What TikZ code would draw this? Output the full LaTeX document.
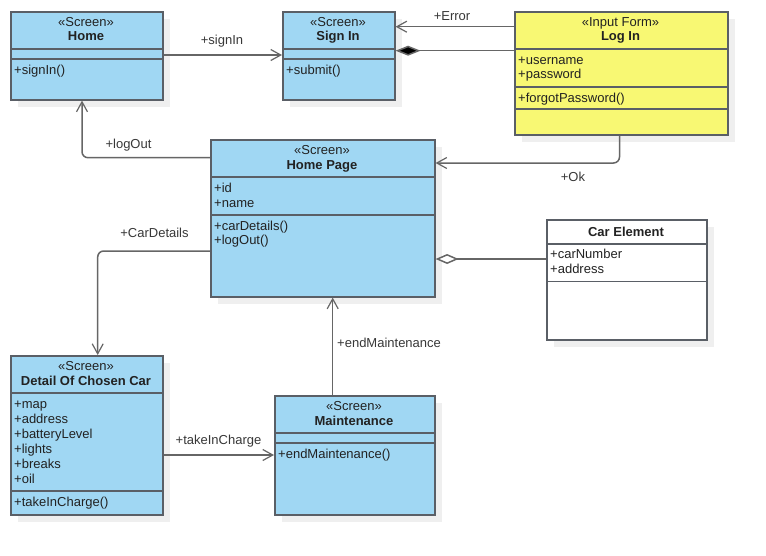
\documentclass[tikz,border=0pt]{standalone}
\usepackage{fontspec}
\setmainfont{Liberation Sans}
\usetikzlibrary{arrows.meta,shadows}

\definecolor{screenblue}{HTML}{A0D7F3}
\definecolor{formyellow}{HTML}{F8F873}
\definecolor{boxline}{HTML}{5A5F66}
\definecolor{wire}{HTML}{666666}
\definecolor{shade}{HTML}{EFEFEF}
\definecolor{ink}{HTML}{222222}

% horizontal compartment rule inside a class box, #2 below its top edge
\newcommand\classrule[2]{\draw[seprule] ([yshift=-#2]#1.north west) -- ([yshift=-#2]#1.north east);}

\tikzset{
  cls/.style={draw=boxline, line width=1.6pt, anchor=north west, inner sep=0pt,
    drop shadow={shadow xshift=7pt, shadow yshift=-7pt, fill=shade, opacity=1}},
  screen/.style={cls, fill=screenblue},
  form/.style={cls, fill=formyellow},
  plain/.style={cls, fill=white},
  seprule/.style={draw=boxline, line width=1.6pt},
  txt/.style={inner sep=0pt, text height=9.4pt, text depth=0pt, text=ink,
    font=\fontsize{13}{15}\selectfont},
  head/.style={txt, font=\fontsize{13}{15}\selectfont\bfseries},
  member/.style={txt, anchor=west},
  lbl/.style={txt, text=ink!90},
  wirebase/.style={draw=wire, line width=1.5pt},
  assoc/.style={wirebase, -{Straight Barb[length=10pt,width=11pt,line width=1.2pt]}},
  comp/.style={wirebase, -{Diamond[length=25pt 0,width=10pt 0,fill=black]}},
  aggr/.style={wirebase, -{Diamond[open,length=23pt 0,width=10pt 0,fill=white]}},
}

\begin{document}
\begin{tikzpicture}[x=1pt,y=-1pt]
\fill[white] (0,0) rectangle (766,555);
\useasboundingbox (0,0) rectangle (766,555);

% ---- Home
\node[screen, minimum width=152pt, minimum height=88pt] (home) at (10,11) {};
\classrule{home}{38pt}\classrule{home}{48pt}
\node[txt] (homeS) at (86,22) {«Screen»};
\node[head] (homeN) at (86,36) {Home};
\node[member] (homeM1) at (14,70) {+signIn()};

% ---- Sign In
\node[screen, minimum width=112pt, minimum height=88pt] (signin) at (282,11) {};
\classrule{signin}{38pt}\classrule{signin}{48pt}
\node[txt] (signinS) at (338,22) {«Screen»};
\node[head] (signinN) at (338,36) {Sign In};
\node[member] (signinM1) at (286,70) {+submit()};

% ---- Log In
\node[form, minimum width=213pt, minimum height=123pt] (login) at (514,11) {};
\classrule{login}{38pt}\classrule{login}{76pt}\classrule{login}{98pt}
\node[txt] (loginS) at (620.5,21.7) {«Input Form»};
\node[head] (loginN) at (620.5,36) {Log In};
\node[member] (loginA1) at (518,59.5) {+username};
\node[member] (loginA2) at (518,74) {+password};
\node[member] (loginM1) at (518,97.5) {+forgotPassword()};

% ---- Home Page
\node[screen, minimum width=224pt, minimum height=157pt] (homepage) at (210,139) {};
\classrule{homepage}{38pt}\classrule{homepage}{76pt}
\node[txt] (hpS) at (322,150) {«Screen»};
\node[head] (hpN) at (322,164.5) {Home Page};
\node[member] (hpA1) at (214,188) {+id};
\node[member] (hpA2) at (214,202.5) {+name};
\node[member] (hpM1) at (214,225.5) {+carDetails()};
\node[member] (hpM2) at (214,240) {+logOut()};

% ---- Car Element
\node[plain, minimum width=160pt, minimum height=120pt] (carel) at (546,219) {};
\classrule{carel}{24.7pt}\classrule{carel}{62.3pt}
\node[head] (carelN) at (626,231.5) {Car Element};
\node[member] (carelA1) at (550,254) {+carNumber};
\node[member] (carelA2) at (550,269) {+address};

% ---- Detail Of Chosen Car
\node[screen, minimum width=152pt, minimum height=159pt] (detail) at (10,355) {};
\classrule{detail}{38pt}\classrule{detail}{136pt}
\node[txt] (detS) at (86,366) {«Screen»};
\node[head] (detN) at (86,380.5) {Detail Of Chosen Car};
\node[member] (detA1) at (14,403.5) {+map};
\node[member] (detA2) at (14,418.5) {+address};
\node[member] (detA3) at (14,433.5) {+batteryLevel};
\node[member] (detA4) at (14,448.5) {+lights};
\node[member] (detA5) at (14,463.5) {+breaks};
\node[member] (detA6) at (14,478.5) {+oil};
\node[member] (detM1) at (14,502) {+takeInCharge()};

% ---- Maintenance
\node[screen, minimum width=160pt, minimum height=119pt] (maint) at (274,395) {};
\classrule{maint}{38pt}\classrule{maint}{48pt}
\node[txt] (mtS) at (354,406) {«Screen»};
\node[head] (mtN) at (354,420.5) {Maintenance};
\node[member] (mtM1) at (278,454) {+endMaintenance()};

% ---- connector end points
\coordinate (a1) at ([yshift=-44pt]home.north east);
\coordinate (e1) at ([yshift=-15.7pt]login.north west);
\coordinate (c1) at ([yshift=-39.7pt]login.north west);
\coordinate (o1) at ([xshift=105.5pt]login.south west);
\coordinate (o2) at ([yshift=-24pt]homepage.north east);
\coordinate (l1) at ([yshift=-18.7pt]homepage.north west);
\coordinate (l2) at ([xshift=72pt]home.south west);
\coordinate (d1) at ([yshift=-112pt]homepage.north west);
\coordinate (d2) at ([xshift=87.7pt]detail.north west);
\coordinate (g1) at ([yshift=-40pt]carel.north west);
\coordinate (t1) at ([yshift=-100pt]detail.north east);
\coordinate (m1) at ([xshift=58.7pt]maint.north west);

% ---- connectors
\draw[assoc] (a1) -- (a1 -| signin.west);
\draw[assoc] (e1) -- (e1 -| signin.east);
\draw[comp] (c1) -- (c1 -| signin.east);
\draw[assoc, rounded corners=6pt] (o1) |- (o2);
\draw[assoc, rounded corners=6pt] (l1) -| (l2);
\draw[assoc, rounded corners=6pt] (d1) -| (d2);
\draw[aggr] (g1) -- (g1 -| homepage.east);
\draw[assoc] (t1) -- (t1 -| maint.west);
\draw[assoc] (m1) -- (m1 |- homepage.south);

% ---- connector labels
\node[lbl] (lSignIn) at (222,40) {+signIn};
\node[lbl] (lError) at (452,15.5) {+Error};
\node[lbl] (lOk) at (573,177) {+Ok};
\node[lbl] (lLogOut) at (128.5,143.5) {+logOut};
\node[lbl] (lCar) at (154.5,232.5) {+CarDetails};
\node[lbl] (lTake) at (218.5,439.5) {+takeInCharge};
\node[lbl, anchor=west] (lEnd) at (337,343) {+endMaintenance};
\end{tikzpicture}
\end{document}
